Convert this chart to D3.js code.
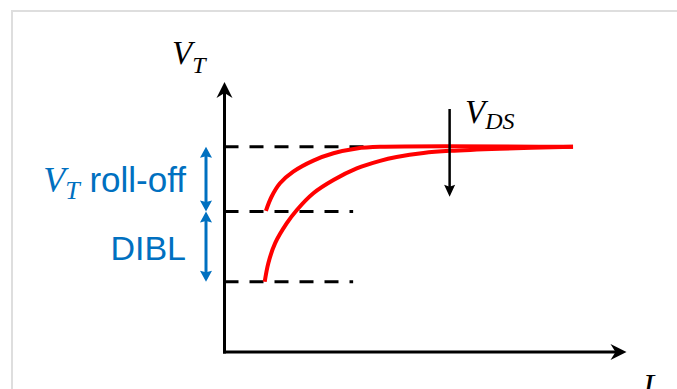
<!DOCTYPE html>
<html>
<head>
<meta charset="utf-8">
<script src="https://cdn.jsdelivr.net/npm/d3@7"></script>
<style>
  html, body { margin: 0; padding: 0; background: #fff; overflow: hidden; }
  svg { display: block; }
</style>
</head>
<body>
<div id="chart"></div>
<script>
// threshold levels (V_T units, arbitrary)
var levelNames = ['long channel', 'roll-off', 'DIBL'];
var levelVT = [7.6, 5.2, 2.6];
var levelEnd = [3.5, 3.2, 3.2];

// low V_DS curve (upper red line)
var lowL = [1.03, 1.17, 1.38, 1.71, 2.21, 2.71, 3.29, 3.87, 8.67];
var lowVT = [5.23, 5.75, 6.25, 6.68, 7.09, 7.36, 7.54, 7.6, 7.6];

// high V_DS curve (lower red line)
var highL = [1.0, 1.09, 1.26, 1.55, 1.8, 2.21, 2.71, 3.29, 3.87, 4.28, 4.95, 5.61, 6.85, 8.67];
var highVT = [2.6, 3.29, 4.03, 4.77, 5.26, 5.88, 6.37, 6.8, 7.08, 7.22, 7.37, 7.45, 7.53, 7.6];

var width = 677;
var height = 389;

var svg = d3.select('#chart').append('svg')
  .attr('width', width)
  .attr('height', height);

// light slide frame
svg.append('rect')
  .attr('x', 12).attr('y', 11)
  .attr('width', 720).attr('height', 420)
  .attr('fill', '#fff')
  .attr('stroke', '#dedede')
  .attr('stroke-width', 2);

var x = d3.scaleLinear().domain([0, 10]).range([224.5, 626.5]);
var y = d3.scaleLinear().domain([0, 10]).range([352, 82]);

// draw a filled arrow head, tip at (tx,ty), pointing along angle (deg)
function head(tx, ty, angle, len, half, notch, color) {
  svg.append('path')
    .attr('d', 'M0,0 L' + (-len) + ',' + (-half) + ' L' + (-len + notch) + ',0 L' + (-len) + ',' + half + 'Z')
    .attr('transform', 'translate(' + tx + ',' + ty + ') rotate(' + angle + ')')
    .attr('fill', color);
}

// dashed level lines
svg.selectAll('.level')
  .data(levelVT)
  .enter().append('line')
  .attr('class', 'level')
  .attr('x1', x(0))
  .attr('x2', function (d, i) { return x(levelEnd[i]); })
  .attr('y1', function (d) { return y(d); })
  .attr('y2', function (d) { return y(d); })
  .attr('stroke', '#000')
  .attr('stroke-width', 3)
  .attr('stroke-dasharray', '14,11');

// axes
svg.append('line')
  .attr('x1', x(0)).attr('x2', x(0))
  .attr('y1', y(0) + 1.5).attr('y2', y(10) + 8)
  .attr('stroke', '#000').attr('stroke-width', 3);
head(x(0), y(10), -90, 16, 8, 5, '#000');

svg.append('line')
  .attr('x1', x(0) - 1.5).attr('x2', x(10) - 8)
  .attr('y1', y(0)).attr('y2', y(0))
  .attr('stroke', '#000').attr('stroke-width', 3);
head(x(10), y(0), 0, 16, 8, 5, '#000');

// red V_T(L) curves
var line = d3.line()
  .x(function (d) { return x(d[0]); })
  .y(function (d) { return y(d[1]); })
  .curve(d3.curveCatmullRom.alpha(0.5));

var curves = [d3.zip(lowL, lowVT), d3.zip(highL, highVT)];
svg.selectAll('.curve')
  .data(curves)
  .enter().append('path')
  .attr('class', 'curve')
  .attr('d', line)
  .attr('fill', 'none')
  .attr('stroke', '#ff0000')
  .attr('stroke-width', 4)
  .attr('stroke-linecap', 'butt');

// V_DS arrow
var vdsX = 5.6;
svg.append('line')
  .attr('x1', x(vdsX)).attr('x2', x(vdsX))
  .attr('y1', y(9.0)).attr('y2', y(5.75) - 8)
  .attr('stroke', '#000').attr('stroke-width', 2.5);
head(x(vdsX), y(5.75), 90, 12, 5.5, 2, '#000');

// blue double arrows between levels
var blue = '#0070c0';
var bx = x(0) - 18.5;
[[levelVT[0], levelVT[1]], [levelVT[1], levelVT[2]]].forEach(function (p) {
  svg.append('line')
    .attr('x1', bx).attr('x2', bx)
    .attr('y1', y(p[0]) + 6).attr('y2', y(p[1]) - 6)
    .attr('stroke', blue).attr('stroke-width', 3);
  head(bx, y(p[0]), -90, 11, 6, 1.5, blue);
  head(bx, y(p[1]), 90, 11, 6, 1.5, blue);
});

// labels
var serif = '"Liberation Serif", "DejaVu Serif", serif';
var sans = '"Liberation Sans", Arial, sans-serif';

var t1 = svg.append('text')
  .attr('x', 172).attr('y', 64)
  .attr('font-family', serif).attr('font-style', 'italic')
  .attr('font-size', 33).attr('fill', '#000');
t1.append('tspan').text('V');
t1.append('tspan').attr('dy', 9).attr('font-size', 24).text('T');

var t2 = svg.append('text')
  .attr('x', 465).attr('y', 123)
  .attr('font-family', serif).attr('font-style', 'italic')
  .attr('font-size', 33).attr('fill', '#000');
t2.append('tspan').text('V');
t2.append('tspan').attr('dy', 6).attr('font-size', 24).text('DS');

svg.append('text')
  .attr('x', 643).attr('y', 397)
  .attr('font-family', serif).attr('font-style', 'italic')
  .attr('font-size', 33).attr('fill', '#000')
  .text('L');

var t3 = svg.append('text')
  .attr('x', 186).attr('y', 192)
  .attr('text-anchor', 'end')
  .attr('font-family', sans)
  .attr('font-size', 35).attr('fill', blue);
t3.append('tspan').attr('font-family', serif).attr('font-style', 'italic').attr('font-size', 36).text('V');
t3.append('tspan').attr('font-family', serif).attr('font-style', 'italic')
  .attr('dy', 7).attr('font-size', 26).text('T');
t3.append('tspan').attr('dy', -7).text(' roll-off');

svg.append('text')
  .attr('x', 186).attr('y', 260)
  .attr('text-anchor', 'end')
  .attr('font-family', sans)
  .attr('font-size', 34).attr('fill', blue)
  .text('DIBL');
</script>
</body>
</html>
